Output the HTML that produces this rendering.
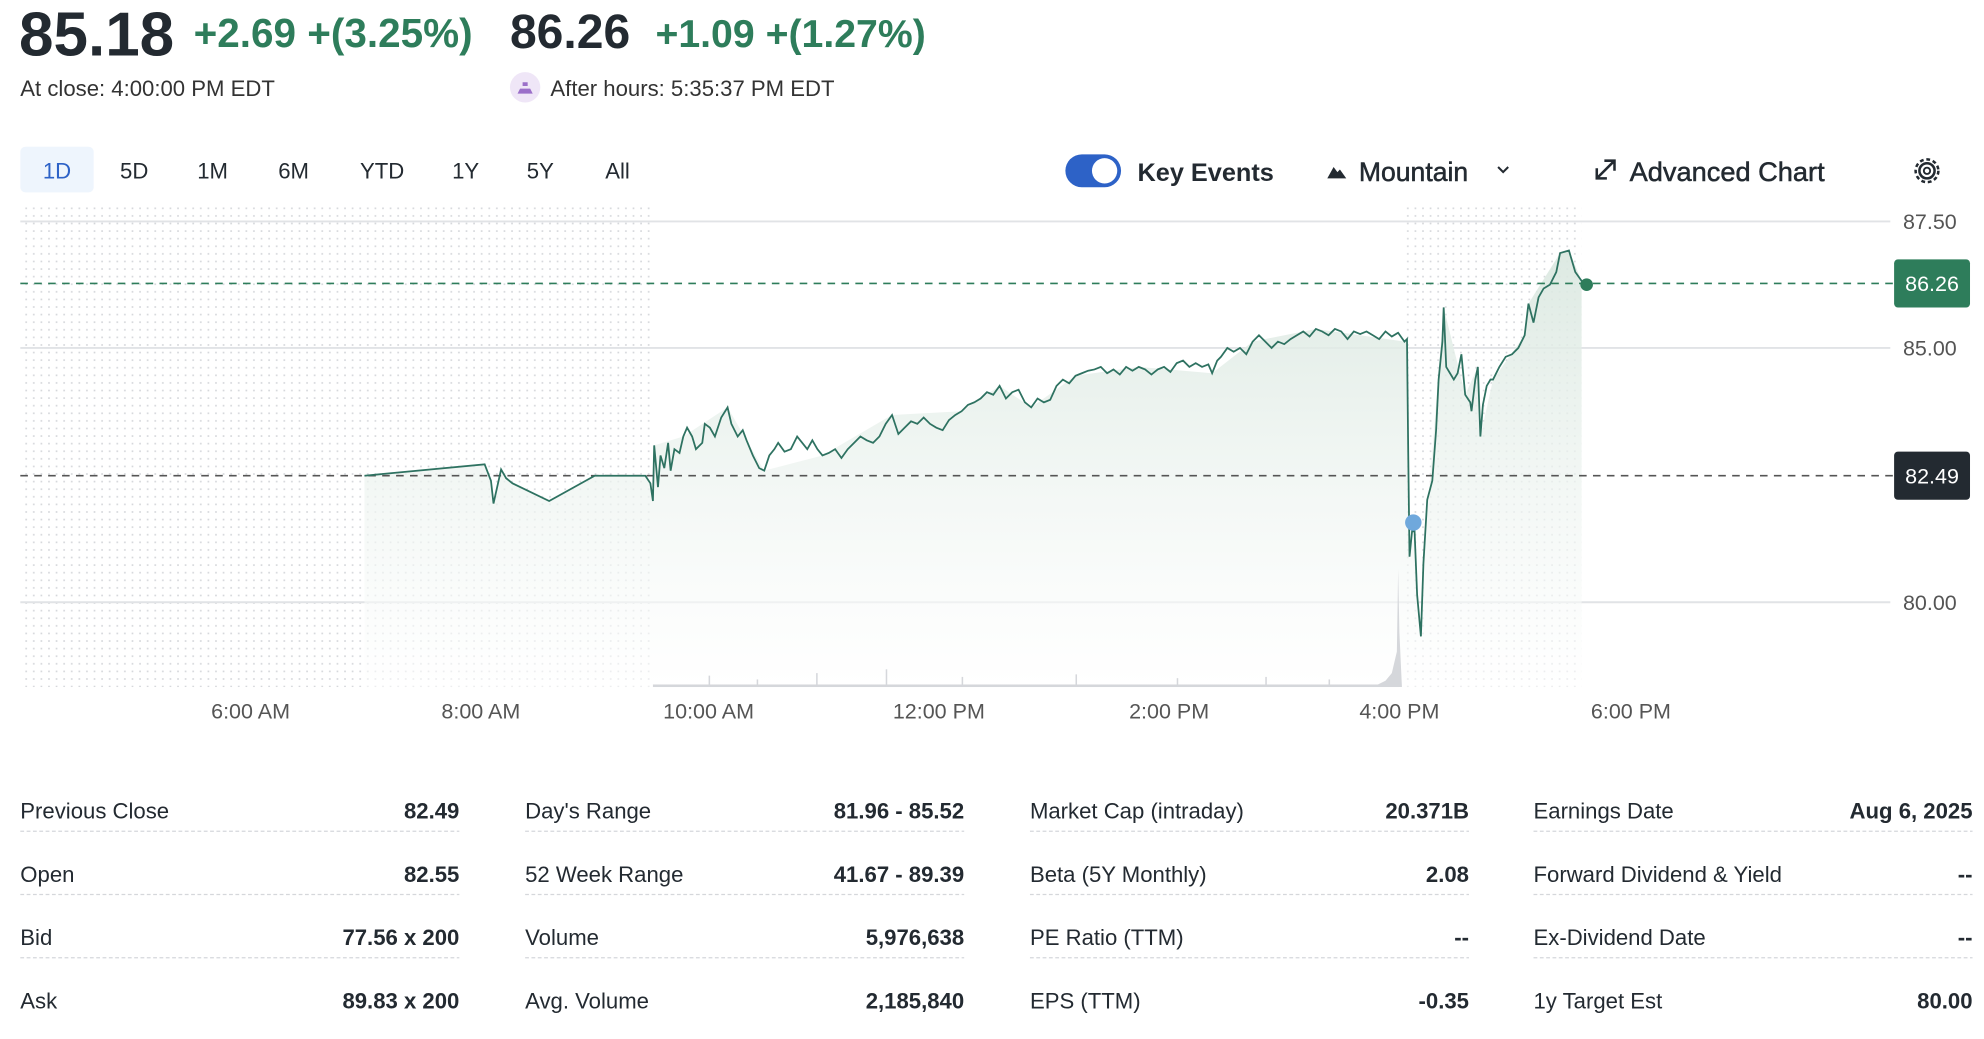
<!DOCTYPE html>
<html><head><meta charset="utf-8"><style>
html,body{margin:0;padding:0;background:#fff;width:1984px;height:1039px;overflow:hidden}
svg{display:block}
text{font-family:"Liberation Sans",sans-serif}
</style></head><body>
<svg width="1984" height="1039" viewBox="0 0 1568 821.2" xmlns="http://www.w3.org/2000/svg">
<defs>
<pattern id="dots" width="6" height="6" patternUnits="userSpaceOnUse"><rect x="2" y="2" width="1.3" height="1.3" fill="#d4d6da"/></pattern>
<linearGradient id="fg" x1="0" y1="0" x2="0" y2="1"><stop offset="0" stop-color="#d9e7df"/><stop offset="1" stop-color="#ffffff" stop-opacity="0.6"/></linearGradient>
</defs>
<!-- header -->
<text x="15" y="44" font-size="49" font-weight="bold" fill="#232a31">85.18</text>
<text x="153" y="37" font-size="32" font-weight="bold" fill="#2e7d5b">+2.69 +(3.25%)</text>
<text x="403" y="38" font-size="38" font-weight="bold" fill="#232a31">86.26</text>
<text x="518" y="37" font-size="31" font-weight="bold" fill="#2e7d5b">+1.09 +(1.27%)</text>
<text x="16" y="76" font-size="17.5" fill="#333">At close: 4:00:00 PM EDT</text>
<circle cx="415" cy="69" r="12" fill="#efe6f7"/>
<path d="M409,74 h12 l-2,-4 h-8 z M413,68 h4 v-3 h-4 z" fill="#9b6fc9"/>
<text x="435" y="76" font-size="17.5" fill="#333">After hours: 5:35:37 PM EDT</text>
<!-- tabs -->
<rect x="16" y="116" width="58" height="36" rx="4" fill="#eef5fd"/>
<g font-size="17.5" fill="#232a31" text-anchor="middle">
<text x="45" y="141" fill="#2d62c7">1D</text><text x="106" y="141">5D</text><text x="168" y="141">1M</text><text x="232" y="141">6M</text><text x="302" y="141">YTD</text><text x="368" y="141">1Y</text><text x="427" y="141">5Y</text><text x="488" y="141">All</text>
</g>
<rect x="842" y="122" width="44" height="26" rx="13" fill="#2d62c7"/>
<circle cx="873" cy="135" r="10" fill="#fff"/>
<text x="899" y="143" font-size="20" font-weight="bold" fill="#232a31">Key Events</text>
<path d="M1049,141 l5,-9 l3,4 l2,-2 l5,7 z" fill="#232a31"/>
<text x="1074" y="143" font-size="21" fill="#232a31" stroke="#232a31" stroke-width="0.4">Mountain</text>
<path d="M1184,132 l4,4 l4,-4" stroke="#232a31" stroke-width="1.6" fill="none"/>
<path d="M1262,141 l14,-14 M1268,127 h8 v8 M1262,133 v8 h8" stroke="#232a31" stroke-width="2" fill="none"/>
<text x="1288" y="143" font-size="21.5" fill="#232a31" stroke="#232a31" stroke-width="0.4">Advanced Chart</text>
<circle cx="1523" cy="135" r="6" fill="none" stroke="#232a31" stroke-width="2"/>
<circle cx="1523" cy="135" r="9" fill="none" stroke="#232a31" stroke-width="2" stroke-dasharray="3,2.2"/>
<circle cx="1523" cy="135" r="2.5" fill="none" stroke="#232a31" stroke-width="1.5"/>
<!-- dotted regions -->
<rect x="16" y="160" width="500" height="383" fill="url(#dots)"/>
<rect x="1108" y="160" width="142" height="383" fill="url(#dots)"/>
<!-- grid -->
<g stroke="#e1e3e6" stroke-width="1.5">
<line x1="16" y1="175" x2="1494" y2="175"/><line x1="16" y1="275" x2="1494" y2="275"/><line x1="16" y1="476" x2="1494" y2="476"/>
</g>
<g font-size="17" fill="#555">
<text x="1504" y="181">87.50</text><text x="1504" y="281">85.00</text><text x="1504" y="482">80.00</text>
</g>
<!-- fill -->
<path id="ln" d="M288,376 L383,367 L388,380 L390,398 L396,371 L400,378 L405,382 L434,396 L470,376 L510,376 L514,382 L516,396 L517,352 L520,385 L522,360 L525,370 L528,350 L530,372 L533,355 L537,358 L540,345 L543,338 L547,345 L550,355 L555,350 L557,335 L561,338 L565,345 L570,330 L575,322 L578,335 L583,345 L587,340 L590,348 L595,360 L600,370 L604,372 L608,360 L612,355 L615,350 L620,357 L625,355 L630,345 L634,350 L638,355 L642,348 L646,355 L650,360 L655,358 L660,355 L665,362 L670,355 L675,350 L680,345 L685,348 L690,350 L695,345 L700,335 L705,328 L710,343 L715,338 L720,333 L725,335 L730,330 L735,335 L740,338 L745,340 L750,332 L755,328 L760,325 L765,320 L770,318 L775,315 L780,310 L785,312 L790,305 L795,315 L800,310 L805,308 L810,318 L815,322 L820,315 L825,318 L830,316 L835,305 L840,300 L845,303 L850,297 L855,295 L860,293 L865,292 L870,290 L875,295 L880,292 L885,296 L890,290 L895,293 L900,290 L905,292 L910,296 L915,292 L920,290 L925,294 L930,287 L935,285 L940,290 L945,287 L950,290 L955,288 L958,295 L962,285 L965,282 L970,275 L975,278 L980,275 L985,280 L990,270 L995,265 L1000,270 L1005,275 L1010,270 L1015,272 L1020,268 L1025,265 L1030,262 L1035,266 L1040,260 L1045,262 L1050,265 L1055,260 L1060,262 L1065,268 L1070,262 L1075,264 L1080,262 L1085,265 L1090,268 L1095,262 L1100,266 L1105,263 L1110,270 L1112,268 L1113,360 L1114,440 L1116,420 L1118,420 L1120,470 L1123,503 L1125,445 L1128,395 L1132,380 L1135,340 L1137,300 L1140,270 L1141,243 L1143,290 L1146,295 L1149,300 L1152,295 L1155,280 L1158,312 L1162,318 L1163,325 L1166,300 L1168,290 L1170,345 L1172,320 L1175,305 L1178,300 L1180,300 L1185,290 L1190,282 L1195,280 L1200,275 L1205,265 L1208,240 L1212,255 L1216,235 L1220,228 L1225,225 L1230,215 L1233,200 L1240,198 L1245,215 L1250,222 L1254,225" fill="none"/>
<path d="M288,376 L383,367 L388,380 L390,398 L396,371 L400,378 L405,382 L434,396 L470,376 L510,376 L514,382 L516,396 L517,352 L540,345 L575,322 L604,372 L650,360 L705,328 L760,325 L790,305 L815,322 L850,297 L900,290 L958,295 L990,270 L1040,260 L1110,270 L1112,268 L1113,360 L1114,440 L1118,420 L1123,503 L1125,445 L1141,243 L1158,312 L1168,290 L1170,345 L1180,300 L1205,265 L1208,240 L1233,200 L1240,198 L1250,222 L1250,543 L288,543 Z" fill="url(#fg)" opacity="0.9"/>
<!-- volume -->
<g fill="#d5d7db">
<rect x="516" y="541" width="590" height="2"/>
<rect x="560" y="534" width="1.2" height="9"/><rect x="598" y="537" width="1.2" height="6"/><rect x="645" y="532" width="1.2" height="11"/><rect x="700" y="529" width="1.2" height="14"/><rect x="760" y="535" width="1.2" height="8"/><rect x="850" y="533" width="1.2" height="10"/><rect x="930" y="536" width="1.2" height="7"/><rect x="1000" y="535" width="1.2" height="8"/><rect x="1050" y="537" width="1.2" height="6"/>
<path d="M1085,543 L1095,538 L1100,532 L1104,515 L1105,450 L1106,500 L1108,543 Z"/>
</g>
<!-- dashed refs -->
<line x1="16" y1="376" x2="1496" y2="376" stroke="#555" stroke-width="1.3" stroke-dasharray="6,5"/>
<line x1="16" y1="224" x2="1496" y2="224" stroke="#2e7d5b" stroke-width="1.3" stroke-dasharray="6,5"/>
<use href="#ln" stroke="#2e7261" stroke-width="1.4"/>
<circle cx="1254" cy="225" r="5" fill="#2e7d5b"/>
<circle cx="1117" cy="413" r="6.5" fill="#6fa8dc"/>
<rect x="1497" y="205" width="60" height="38" rx="3" fill="#2e7d5b"/>
<text x="1527" y="230" font-size="17" fill="#fff" text-anchor="middle">86.26</text>
<rect x="1497" y="357" width="60" height="38" rx="3" fill="#232a31"/>
<text x="1527" y="382" font-size="17" fill="#fff" text-anchor="middle">82.49</text>
<g font-size="17" fill="#555" text-anchor="middle">
<text x="198" y="568">6:00 AM</text><text x="380" y="568">8:00 AM</text><text x="560" y="568">10:00 AM</text><text x="742" y="568">12:00 PM</text><text x="924" y="568">2:00 PM</text><text x="1106" y="568">4:00 PM</text><text x="1289" y="568">6:00 PM</text>
</g>
<!-- stats -->
<g font-size="17.5" fill="#232a31">
<text x="16" y="647">Previous Close</text><text x="16" y="697">Open</text><text x="16" y="747">Bid</text><text x="16" y="797">Ask</text>
<text x="415" y="647">Day's Range</text><text x="415" y="697">52 Week Range</text><text x="415" y="747">Volume</text><text x="415" y="797">Avg. Volume</text>
<text x="814" y="647">Market Cap (intraday)</text><text x="814" y="697">Beta (5Y Monthly)</text><text x="814" y="747">PE Ratio (TTM)</text><text x="814" y="797">EPS (TTM)</text>
<text x="1212" y="647">Earnings Date</text><text x="1212" y="697">Forward Dividend &amp; Yield</text><text x="1212" y="747">Ex-Dividend Date</text><text x="1212" y="797">1y Target Est</text>
</g>
<g font-size="17.5" font-weight="bold" fill="#232a31" text-anchor="end">
<text x="363" y="647">82.49</text><text x="363" y="697">82.55</text><text x="363" y="747">77.56 x 200</text><text x="363" y="797">89.83 x 200</text>
<text x="762" y="647">81.96 - 85.52</text><text x="762" y="697">41.67 - 89.39</text><text x="762" y="747">5,976,638</text><text x="762" y="797">2,185,840</text>
<text x="1161" y="647">20.371B</text><text x="1161" y="697">2.08</text><text x="1161" y="747">--</text><text x="1161" y="797">-0.35</text>
<text x="1559" y="647">Aug 6, 2025</text><text x="1559" y="697">--</text><text x="1559" y="747">--</text>
<text x="1559" y="797">80.00</text>
</g>
<g stroke="#d5d7db" stroke-width="1" stroke-dasharray="3,2">
<line x1="16" y1="657" x2="363" y2="657"/><line x1="16" y1="707" x2="363" y2="707"/><line x1="16" y1="757" x2="363" y2="757"/>
<line x1="415" y1="657" x2="762" y2="657"/><line x1="415" y1="707" x2="762" y2="707"/><line x1="415" y1="757" x2="762" y2="757"/>
<line x1="814" y1="657" x2="1161" y2="657"/><line x1="814" y1="707" x2="1161" y2="707"/><line x1="814" y1="757" x2="1161" y2="757"/>
<line x1="1212" y1="657" x2="1559" y2="657"/><line x1="1212" y1="707" x2="1559" y2="707"/><line x1="1212" y1="757" x2="1559" y2="757"/>
</g>
</svg>
</body></html>
